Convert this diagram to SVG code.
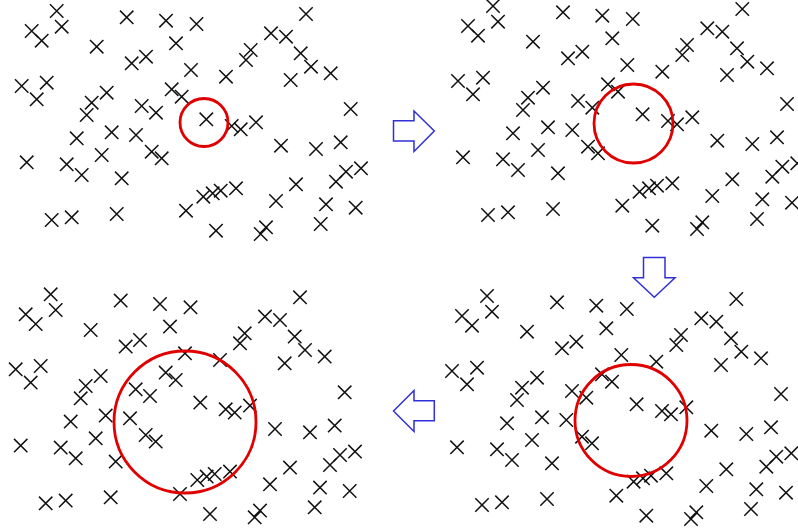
<svg xmlns="http://www.w3.org/2000/svg" xmlns:xlink="http://www.w3.org/1999/xlink" width="798" height="531" viewBox="0 0 798 531">
<style>
.x{fill:none;stroke:#111;stroke-width:1.5}
.c{fill:none;stroke:#e00000;stroke-width:2.8}
.a{fill:#fff;stroke:#3030d8;stroke-width:1.5;stroke-linejoin:miter}
</style>
<defs>
<path id="x" class="x" d="M-6.7,-6.7L6.7,6.7M6.7,-6.7L-6.7,6.7"/>
<g id="pts">
<use href="#x" x="56.7" y="11"/>
<use href="#x" x="31.7" y="31"/>
<use href="#x" x="61.7" y="26.7"/>
<use href="#x" x="41.7" y="40.7"/>
<use href="#x" x="126.7" y="17.3"/>
<use href="#x" x="166" y="20.7"/>
<use href="#x" x="196.5" y="24"/>
<use href="#x" x="176" y="43.3"/>
<use href="#x" x="96.7" y="46.7"/>
<use href="#x" x="146" y="56.7"/>
<use href="#x" x="131.7" y="63.3"/>
<use href="#x" x="191" y="70"/>
<use href="#x" x="21.7" y="86"/>
<use href="#x" x="46.7" y="82.7"/>
<use href="#x" x="36.7" y="99.3"/>
<use href="#x" x="106.7" y="92.7"/>
<use href="#x" x="91.7" y="102.7"/>
<use href="#x" x="86.7" y="115"/>
<use href="#x" x="171.7" y="89.3"/>
<use href="#x" x="181.7" y="96.7"/>
<use href="#x" x="141.7" y="106"/>
<use href="#x" x="156" y="112.7"/>
<use href="#x" x="76.7" y="138.3"/>
<use href="#x" x="111.7" y="132.3"/>
<use href="#x" x="136" y="135"/>
<use href="#x" x="151.7" y="151.7"/>
<use href="#x" x="161.7" y="158.3"/>
<use href="#x" x="101.7" y="155"/>
<use href="#x" x="26.7" y="162.3"/>
<use href="#x" x="66.7" y="164.3"/>
<use href="#x" x="81.7" y="175"/>
<use href="#x" x="121.7" y="178.3"/>
<use href="#x" x="186" y="210.7"/>
<use href="#x" x="51.7" y="220"/>
<use href="#x" x="71.7" y="217.3"/>
<use href="#x" x="116.7" y="214"/>
<use href="#x" x="306" y="14"/>
<use href="#x" x="271" y="33.3"/>
<use href="#x" x="286" y="36.7"/>
<use href="#x" x="250.7" y="50"/>
<use href="#x" x="246" y="60"/>
<use href="#x" x="300.7" y="53.3"/>
<use href="#x" x="311" y="66.7"/>
<use href="#x" x="330.7" y="73.3"/>
<use href="#x" x="226" y="76.7"/>
<use href="#x" x="290.7" y="80"/>
<use href="#x" x="350.7" y="109"/>
<use href="#x" x="206.3" y="119.3"/>
<use href="#x" x="231.7" y="126"/>
<use href="#x" x="240.7" y="129.3"/>
<use href="#x" x="256" y="122.3"/>
<use href="#x" x="281" y="145.7"/>
<use href="#x" x="316" y="149"/>
<use href="#x" x="340.7" y="142.3"/>
<use href="#x" x="361" y="168.3"/>
<use href="#x" x="346" y="171.7"/>
<use href="#x" x="336" y="181.7"/>
<use href="#x" x="296" y="184.3"/>
<use href="#x" x="236" y="188.3"/>
<use href="#x" x="220.7" y="190.7"/>
<use href="#x" x="212.7" y="193.3"/>
<use href="#x" x="203.3" y="196.7"/>
<use href="#x" x="276" y="201"/>
<use href="#x" x="326" y="204.3"/>
<use href="#x" x="355.7" y="207.7"/>
<use href="#x" x="320.7" y="224"/>
<use href="#x" x="216" y="230.7"/>
<use href="#x" x="266" y="227.3"/>
<use href="#x" x="260.7" y="234"/>
</g>
</defs>
<rect width="798" height="531" fill="#fff"/>
<g id="panel1">
<use href="#pts"/>
<circle class="c" cx="204" cy="122.5" r="24"/>
</g>
<g id="panel2">
<use href="#pts" transform="translate(436.3,-5)"/>
<circle class="c" cx="633.5" cy="123.5" r="39.5"/>
</g>
<g id="panel3">
<use href="#pts" transform="translate(-6,283.3)"/>
<circle class="c" cx="185" cy="422" r="71"/>
</g>
<g id="panel4">
<use href="#pts" transform="translate(430.3,285)"/>
<circle class="c" cx="631" cy="420.5" r="56"/>
</g>
<g id="arrows">
<polygon class="a" points="393.5,120.7 414,120.7 414,111 434.3,131 414,151.5 414,141 393.5,141"/>
<polygon class="a" points="643.5,257.5 665,257.5 665,277.7 675,277.7 654.3,297.3 633.5,277.7 643.5,277.7"/>
<polygon class="a" points="434.3,400.7 414,400.7 414,390.5 393.5,411 414,431.5 414,420.7 434.3,420.7"/>
</g>
</svg>
